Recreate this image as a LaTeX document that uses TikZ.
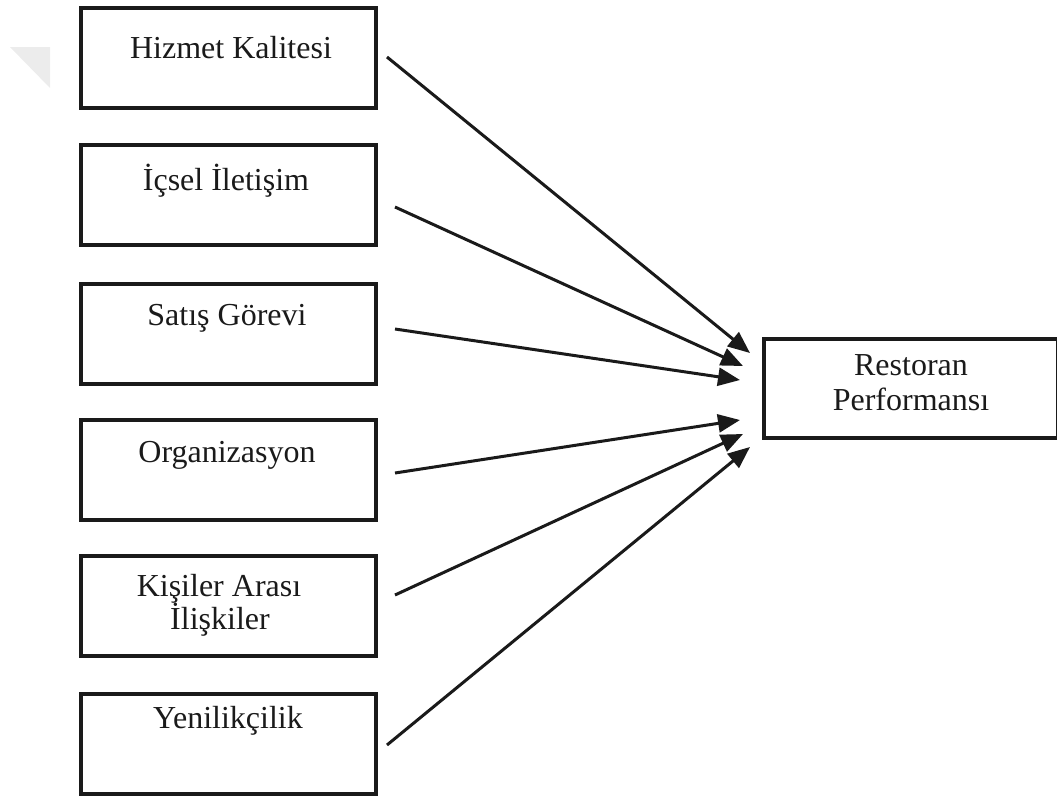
\documentclass[tikz,border=0pt]{standalone}
\usepackage{fontspec}
\setmainfont{Liberation Serif}
\usetikzlibrary{arrows.meta}
\definecolor{ink}{RGB}{26,26,26}
\definecolor{wmgray}{RGB}{236,236,236}
\begin{document}
\begin{tikzpicture}[x=1pt,y=-1pt,
  box/.style={draw=ink, line width=4pt, rectangle, anchor=north west,
    minimum width=295pt, minimum height=100pt, inner sep=0pt, outer sep=0pt},
  outbox/.style={box, minimum width=294pt, minimum height=99pt},
  lbl/.style={anchor=base, inner sep=0pt, text=ink,
    font=\fontsize{32}{36}\selectfont},
  link/.style={line width=3pt, draw=ink,
    -{Triangle[length=22pt,width=18pt]}}]
\useasboundingbox (0,0) rectangle (1057,796);
\clip (0,0) rectangle (1057,796);

% faint corner mark
\fill[wmgray] (10,47) -- (50,47) -- (50,88) -- cycle;

% input factors
\node[box] (b1) at (80.5,8)   {};
\node[box] (b2) at (80.5,145) {};
\node[box] (b3) at (80.5,284) {};
\node[box] (b4) at (80.5,420) {};
\node[box] (b5) at (80.5,556) {};
\node[box] (b6) at (80.5,694) {};

\node[lbl] (t1)  at (231,58)  {Hizmet Kalitesi};
\node[lbl] (t2)  at (226,190) {İçsel İletişim};
\node[lbl] (t3)  at (227,325) {Satış Görevi};
\node[lbl] (t4)  at (227,462) {Organizasyon};
\node[lbl] (t5a) at (219,596) {Kişiler Arası};
\node[lbl] (t5b) at (220,629) {İlişkiler};
\node[lbl] (t6)  at (228,728) {Yenilikçilik};

% outcome
\node[outbox] (out) at (764,339) {};
\node[lbl] (r1) at (911,375) {Restoran};
\node[lbl] (r2) at (911,410) {Performansı};

% arrow ends
\coordinate (s1) at (387,57);  \coordinate (e1) at (750,353);
\coordinate (s2) at (395,207); \coordinate (e2) at (743,366);
\coordinate (s3) at (395,329); \coordinate (e3) at (740,380);
\coordinate (s4) at (395,473); \coordinate (e4) at (740,420);
\coordinate (s5) at (395,595); \coordinate (e5) at (743,434);
\coordinate (s6) at (387,745); \coordinate (e6) at (750,447);

\foreach \i in {1,...,6}{\draw[link] (s\i) -- (e\i);}
\end{tikzpicture}
\end{document}
